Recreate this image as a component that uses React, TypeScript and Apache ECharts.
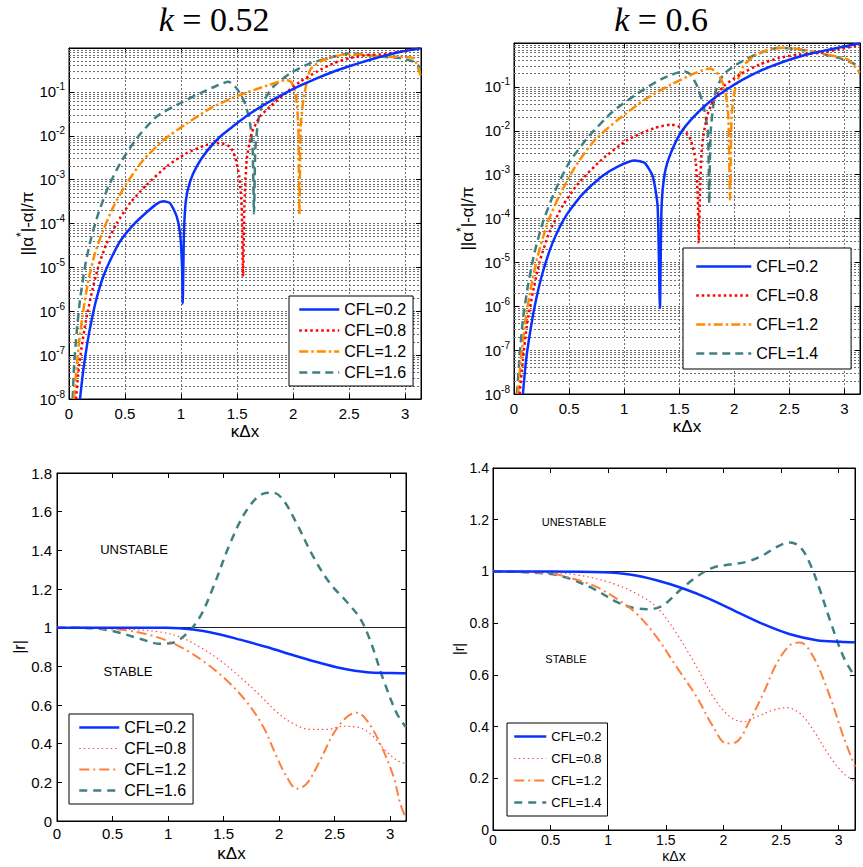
import React, { useEffect, useRef } from 'react';
import * as echarts from 'echarts';

type P = [number, number][];

// ---------- Top-left: k = 0.52, ||alpha*|-alpha|/pi (log) ----------
const TL_CFL02: P = [
  [0.098, 1e-8], [0.128, 4.6e-8], [0.164, 1.9e-7], [0.202, 6.3e-7], [0.247, 2.0e-6], [0.306, 6.2e-6],
  [0.381, 1.7e-5], [0.455, 3.9e-5], [0.574, 9.3e-5], [0.693, 1.8e-4], [0.783, 2.8e-4], [0.842, 3.2e-4],
  [0.902, 2.9e-4], [0.961, 1.45e-4], [0.991, 6.0e-5], [1.009, 1.05e-5], [1.015, 1.5e-6], [1.026, 6.0e-5],
  [1.044, 3.5e-4], [1.08, 8.9e-4], [1.14, 2.0e-3], [1.229, 4.4e-3], [1.348, 9.5e-3], [1.467, 1.66e-2],
  [1.616, 3.2e-2], [1.764, 5.5e-2], [1.913, 8.9e-2], [2.062, 0.138], [2.211, 0.204], [2.359, 0.288],
  [2.508, 0.389], [2.657, 0.513], [2.806, 0.66], [2.954, 0.81], [3.14, 0.98],
];
const TL_CFL08: P = [
  [0.0625, 1e-8], [0.083, 3.9e-8], [0.113, 1.55e-7], [0.152, 6.3e-7], [0.202, 2.6e-6], [0.262, 1.05e-5],
  [0.336, 3.5e-5], [0.425, 1.0e-4], [0.544, 2.9e-4], [0.693, 7.6e-4], [0.872, 2.0e-3], [1.05, 4.0e-3],
  [1.229, 6.2e-3], [1.348, 6.8e-3], [1.437, 5.6e-3], [1.482, 3.3e-3], [1.52, 1.17e-3], [1.541, 2.4e-4],
  [1.553, 6.2e-6], [1.565, 2.4e-4], [1.586, 2.8e-3], [1.63, 1.15e-2], [1.705, 2.75e-2], [1.794, 4.6e-2],
  [1.913, 8.5e-2], [2.062, 0.17], [2.211, 0.288], [2.359, 0.447], [2.508, 0.59], [2.657, 0.69],
  [2.806, 0.72], [2.954, 0.83], [3.14, 0.98],
];
const TL_CFL12: P = [
  [0.045, 1e-8], [0.0625, 3.9e-8], [0.092, 2.2e-7], [0.128, 1.07e-6], [0.173, 5.1e-6], [0.232, 2.1e-5],
  [0.306, 7.1e-5], [0.396, 2.4e-4], [0.515, 8.3e-4], [0.663, 2.8e-3], [0.842, 7.9e-3], [1.05, 1.9e-2],
  [1.288, 4.6e-2], [1.526, 8.5e-2], [1.764, 0.138], [1.943, 0.186], [1.988, 0.162], [2.026, 7.8e-2],
  [2.047, 1.6e-2], [2.056, 1.55e-4], [2.068, 1.6e-2], [2.092, 6.6e-2], [2.151, 0.316], [2.24, 0.49],
  [2.359, 0.63], [2.478, 0.72], [2.657, 0.69], [2.806, 0.63], [2.954, 0.63], [3.074, 0.59], [3.14, 0.224],
];
const TL_CFL16: P = [
  [0.033, 1e-8], [0.045, 5.5e-8], [0.068, 3.2e-7], [0.098, 1.8e-6], [0.143, 1.05e-5], [0.193, 4.2e-5],
  [0.262, 1.7e-4], [0.351, 6.9e-4], [0.455, 2.3e-3], [0.604, 8.7e-3], [0.783, 2.75e-2], [0.991, 5.5e-2],
  [1.169, 9.3e-2], [1.318, 0.138], [1.422, 0.17], [1.497, 0.12], [1.571, 5.5e-2], [1.616, 1.9e-2],
  [1.639, 4.8e-3], [1.651, 1.7e-4], [1.663, 4.8e-3], [1.69, 2.3e-2], [1.735, 6.0e-2], [1.824, 0.132],
  [1.973, 0.263], [2.151, 0.447], [2.359, 0.63], [2.508, 0.76], [2.657, 0.69], [2.806, 0.63],
  [2.954, 0.59], [3.074, 0.49], [3.14, 0.347],
];

// ---------- Top-right: k = 0.6 ----------
const TR_CFL02: P = [
  [0.081, 1e-8], [0.11, 6.0e-8], [0.155, 3.5e-7], [0.2, 1.4e-6], [0.26, 5.8e-6], [0.349, 2.75e-5],
  [0.469, 1.12e-4], [0.618, 3.5e-4], [0.797, 9.1e-4], [0.946, 1.55e-3], [1.096, 2.1e-3], [1.185, 1.86e-3],
  [1.26, 9.1e-4], [1.304, 1.9e-4], [1.325, 9.1e-7], [1.34, 1.9e-4], [1.37, 1.1e-3], [1.424, 3.1e-3],
  [1.513, 8.9e-3], [1.633, 2.1e-2], [1.782, 4.7e-2], [1.931, 8.7e-2], [2.081, 0.148], [2.23, 0.229],
  [2.379, 0.324], [2.528, 0.437], [2.678, 0.56], [2.827, 0.68], [2.976, 0.81], [3.14, 0.98],
];
const TR_CFL08: P = [
  [0.051, 1e-8], [0.081, 6.0e-8], [0.116, 3.5e-7], [0.17, 2.0e-6], [0.23, 9.8e-6], [0.319, 4.7e-5],
  [0.439, 1.9e-4], [0.588, 6.5e-4], [0.797, 2.2e-3], [1.036, 6.3e-3], [1.275, 1.15e-2], [1.424, 1.38e-2],
  [1.528, 1.15e-2], [1.603, 6.3e-3], [1.648, 2.2e-3], [1.669, 2.7e-4], [1.678, 2.75e-5], [1.687, 2.7e-4],
  [1.707, 4.5e-3], [1.752, 2.1e-2], [1.812, 5.1e-2], [1.901, 0.102], [2.051, 0.19], [2.23, 0.324],
  [2.409, 0.457], [2.588, 0.55], [2.767, 0.59], [2.946, 0.71], [3.14, 0.91],
];
const TR_CFL12: P = [
  [0.036, 1e-8], [0.066, 7.2e-8], [0.104, 4.9e-7], [0.155, 2.8e-6], [0.215, 1.38e-5], [0.304, 7.9e-5],
  [0.409, 3.2e-4], [0.558, 1.55e-3], [0.737, 6.3e-3], [0.946, 1.8e-2], [1.185, 5.1e-2], [1.424, 0.112],
  [1.633, 0.2], [1.782, 0.263], [1.857, 0.19], [1.916, 8.7e-2], [1.946, 2.1e-2], [1.961, 2.7e-4],
  [1.976, 2.1e-2], [2.006, 8.7e-2], [2.081, 0.295], [2.2, 0.55], [2.319, 0.71], [2.439, 0.78],
  [2.618, 0.71], [2.767, 0.59], [2.916, 0.5], [3.036, 0.417], [3.14, 0.209],
];
const TR_CFL14: P = [
  [0.027, 1e-8], [0.051, 7.2e-8], [0.081, 4.9e-7], [0.125, 2.8e-6], [0.185, 1.62e-5], [0.26, 7.9e-5],
  [0.364, 3.8e-4], [0.499, 1.86e-3], [0.678, 7.4e-3], [0.887, 2.6e-2], [1.125, 7.2e-2], [1.334, 0.148],
  [1.543, 0.229], [1.603, 0.19], [1.663, 0.105], [1.722, 3.6e-2], [1.761, 8.9e-3], [1.773, 2.2e-4],
  [1.785, 8.9e-3], [1.827, 7.2e-2], [1.901, 0.19], [2.021, 0.324], [2.2, 0.55], [2.409, 0.78],
  [2.588, 0.71], [2.767, 0.59], [2.946, 0.457], [3.066, 0.355], [3.14, 0.295],
];

// ---------- Bottom-left: |r| (k = 0.52) ----------
const BL_CFL02: P = [
  [0, 1.0], [0.5, 1.0], [0.986, 1.0], [1.226, 0.991], [1.437, 0.969], [1.647, 0.938], [1.888, 0.9],
  [2.128, 0.857], [2.338, 0.822], [2.549, 0.791], [2.789, 0.769], [3.0, 0.765], [3.1416, 0.764],
];
const BL_CFL08: P = [
  [0, 1.0], [0.385, 0.997], [0.685, 0.99], [0.926, 0.978], [1.106, 0.952], [1.286, 0.9], [1.467, 0.831],
  [1.647, 0.745], [1.827, 0.65], [1.978, 0.564], [2.128, 0.503], [2.278, 0.474], [2.429, 0.474],
  [2.579, 0.49], [2.699, 0.486], [2.819, 0.452], [2.94, 0.374], [3.06, 0.314], [3.1416, 0.297],
];
const BL_CFL12: P = [
  [0, 1.0], [0.385, 0.997], [0.625, 0.986], [0.806, 0.966], [0.986, 0.934], [1.166, 0.883], [1.347, 0.814],
  [1.527, 0.728], [1.707, 0.616], [1.858, 0.486], [1.978, 0.331], [2.068, 0.228], [2.158, 0.167],
  [2.248, 0.193], [2.369, 0.314], [2.489, 0.452], [2.609, 0.538], [2.699, 0.56], [2.789, 0.521],
  [2.909, 0.4], [3.03, 0.228], [3.09, 0.09], [3.1416, 0.012],
];
const BL_CFL16: P = [
  [0, 1.0], [0.325, 0.997], [0.535, 0.978], [0.745, 0.943], [0.926, 0.917], [1.046, 0.922], [1.166, 0.969],
  [1.286, 1.055], [1.407, 1.21], [1.557, 1.434], [1.707, 1.607], [1.858, 1.693], [1.948, 1.698],
  [2.038, 1.659], [2.158, 1.538], [2.308, 1.366], [2.459, 1.228], [2.609, 1.133], [2.729, 1.047],
  [2.819, 0.934], [2.94, 0.728], [3.06, 0.555], [3.1416, 0.486],
];

// ---------- Bottom-right: |r| (k = 0.6) ----------
const BR_CFL02: P = [
  [0, 1.0], [0.5, 1.0], [0.956, 0.997], [1.187, 0.988], [1.419, 0.966], [1.651, 0.934], [1.882, 0.893],
  [2.114, 0.844], [2.346, 0.796], [2.578, 0.757], [2.809, 0.734], [3.012, 0.728], [3.1416, 0.726],
];
const BR_CFL08: P = [
  [0, 1.0], [0.463, 0.997], [0.753, 0.985], [1.043, 0.953], [1.245, 0.914], [1.419, 0.863], [1.593, 0.76],
  [1.767, 0.631], [1.911, 0.515], [2.056, 0.438], [2.172, 0.419], [2.288, 0.438], [2.433, 0.464],
  [2.548, 0.473], [2.664, 0.451], [2.78, 0.386], [2.925, 0.283], [3.041, 0.219], [3.1416, 0.187],
];
const BR_CFL12: P = [
  [0, 1.0], [0.463, 0.994], [0.695, 0.972], [0.898, 0.94], [1.072, 0.895], [1.245, 0.837], [1.419, 0.747],
  [1.593, 0.631], [1.767, 0.515], [1.911, 0.399], [2.027, 0.335], [2.114, 0.341], [2.23, 0.425],
  [2.346, 0.528], [2.462, 0.644], [2.578, 0.715], [2.664, 0.725], [2.78, 0.67], [2.925, 0.515],
  [3.041, 0.361], [3.1416, 0.245],
];
const BR_CFL14: P = [
  [0, 1.0], [0.463, 0.992], [0.666, 0.972], [0.898, 0.927], [1.072, 0.882], [1.245, 0.857], [1.361, 0.854],
  [1.477, 0.869], [1.622, 0.927], [1.767, 0.979], [1.911, 1.015], [2.056, 1.027], [2.201, 1.037],
  [2.346, 1.063], [2.462, 1.095], [2.578, 1.112], [2.664, 1.095], [2.751, 1.03], [2.838, 0.927],
  [2.925, 0.811], [3.041, 0.67], [3.1416, 0.592],
];

const NAMES_A = ['CFL=0.2', 'CFL=0.8', 'CFL=1.2', 'CFL=1.6'];
const NAMES_B = ['CFL=0.2', 'CFL=0.8', 'CFL=1.2', 'CFL=1.4'];
const X_TICKS = [0, 0.5, 1, 1.5, 2, 2.5, 3];

const FONT = '"Liberation Sans", Arial, Helvetica, sans-serif';
const SERIF = '"Liberation Serif", "Times New Roman", serif';

type LS = { color: string; width: number; type: any };
const TOP_STYLES: LS[] = [
  { color: '#0a32ff', width: 2.5, type: 'solid' },
  { color: '#ff0000', width: 2.5, type: [2.5, 3] },
  { color: '#ff8c00', width: 2.5, type: [9, 3, 2.5, 3] },
  { color: '#408080', width: 2.5, type: [8, 5] },
];
const BOT_STYLES: LS[] = [
  { color: '#0a32ff', width: 2.5, type: 'solid' },
  { color: '#ff4a4a', width: 1.2, type: [1.5, 3] },
  { color: '#ff7f40', width: 2, type: [10, 4, 2, 4] },
  { color: '#408080', width: 2.5, type: [8, 6] },
];

const GRIDS = [
  { left: 69, top: 48, width: 352, height: 351 },
  { left: 514, top: 43, width: 351, height: 351 },
  { left: 57, top: 473, width: 349, height: 348 },
  { left: 493, top: 468, width: 362, height: 362 },
];

function xFmt(v: number) {
  return X_TICKS.some((t) => Math.abs(t - v) < 1e-6) ? String(v) : '';
}
function logFmt(v: number) {
  const e = Math.round(Math.log10(v));
  if (e >= 0) return '';
  return '10{sup|' + e + '}';
}

export default function App() {
  const ref = useRef<HTMLDivElement>(null);
  useEffect(() => {
    document.body.style.margin = '0';
    if (!ref.current) return;
    const chart = echarts.init(ref.current, undefined, { renderer: 'svg' });

    const minorVals: number[] = [];
    for (let d = -8; d < 0; d++) for (let m = 2; m <= 9; m++) minorVals.push(m * Math.pow(10, d));

    const gridLine = { color: '#6e6e6e', type: [2, 2], width: 1 };

    const xAxes: any[] = [];
    const yAxes: any[] = [];
    const xCfg = [
      { fs: 15, margin: 7, nameGap: 24, nameFs: 17, grid: true },
      { fs: 15, margin: 7, nameGap: 24, nameFs: 17, grid: true },
      { fs: 15, margin: 5, nameGap: 24, nameFs: 17, grid: false },
      { fs: 14, margin: 3, nameGap: 19, nameFs: 14, grid: false },
    ];
    xCfg.forEach((c, g) => {
      const base = {
        type: 'value', gridIndex: g, min: 0, max: Math.PI, interval: 0.5,
        axisLine: { show: true, onZero: false, lineStyle: { color: '#000', width: 1 } },
        axisTick: { show: true, inside: true, length: 5, lineStyle: { color: '#000' } },
      };
      xAxes.push({
        ...base, position: 'bottom',
        axisLabel: { color: '#000', fontSize: c.fs, fontFamily: FONT, margin: c.margin, formatter: xFmt },
        splitLine: { show: c.grid, lineStyle: gridLine },
        name: 'κΔx', nameLocation: 'middle', nameGap: c.nameGap,
        nameTextStyle: { color: '#000', fontSize: c.nameFs, fontFamily: FONT },
      });
      xAxes.push({ ...base, position: 'top', axisLabel: { show: false }, splitLine: { show: false } });
    });

    const logName = '||α{s|*}|-α|/π';
    [0, 1].forEach((g) => {
      const base = {
        type: 'log', logBase: 10, gridIndex: g, min: 1e-8, max: 1, splitNumber: 8,
        axisLine: { show: true, onZero: false, lineStyle: { color: '#000', width: 1 } },
        axisTick: { show: true, inside: true, length: 5, lineStyle: { color: '#000' } },
      };
      yAxes.push({
        ...base, position: 'left',
        axisLabel: {
          color: '#000', fontSize: 15, fontFamily: FONT, margin: 4, formatter: logFmt,
          rich: { sup: { fontSize: 10, fontFamily: FONT, color: '#000', padding: [0, 0, 10, 0] } },
        },
        splitLine: { show: true, lineStyle: gridLine },
        name: logName, nameLocation: 'middle', nameRotate: 90, nameGap: g === 0 ? 29 : 35,
        nameTextStyle: {
          color: '#000', fontSize: 17, fontFamily: FONT,
          rich: { s: { fontSize: 12, fontFamily: FONT, color: '#000', padding: [0, 0, 12, 0] } },
        },
      });
      yAxes.push({ ...base, position: 'right', axisLabel: { show: false }, splitLine: { show: false } });
    });
    const botY = [
      { g: 2, max: 1.8, fs: 15, margin: 5, nameGap: 29, nameFs: 16 },
      { g: 3, max: 1.4, fs: 14, margin: 4, nameGap: 21, nameFs: 14 },
    ];
    botY.forEach((c) => {
      const base = {
        type: 'value', gridIndex: c.g, min: 0, max: c.max, interval: 0.2,
        axisLine: { show: true, onZero: false, lineStyle: { color: '#000', width: 1 } },
        axisTick: { show: true, inside: true, length: 5, lineStyle: { color: '#000' } },
        splitLine: { show: false },
      };
      yAxes.push({
        ...base, position: 'left',
        axisLabel: { color: '#000', fontSize: c.fs, fontFamily: FONT, margin: c.margin },
        name: '|r|', nameLocation: 'middle', nameRotate: 90, nameGap: c.nameGap,
        nameTextStyle: { color: '#000', fontSize: c.nameFs, fontFamily: FONT },
      });
      yAxes.push({ ...base, position: 'right', axisLabel: { show: false } });
    });

    const plots = [
      { data: [TL_CFL02, TL_CFL08, TL_CFL12, TL_CFL16], names: NAMES_A, styles: TOP_STYLES, log: true },
      { data: [TR_CFL02, TR_CFL08, TR_CFL12, TR_CFL14], names: NAMES_B, styles: TOP_STYLES, log: true },
      { data: [BL_CFL02, BL_CFL08, BL_CFL12, BL_CFL16], names: NAMES_A, styles: BOT_STYLES, log: false },
      { data: [BR_CFL02, BR_CFL08, BR_CFL12, BR_CFL14], names: NAMES_B, styles: BOT_STYLES, log: false },
    ];

    const series: any[] = [];
    plots.forEach((p, g) => {
      p.data.forEach((d, i) => {
        const s: any = {
          type: 'line', name: p.names[i], xAxisIndex: 2 * g, yAxisIndex: 2 * g, data: d,
          symbol: 'none', showSymbol: false, smooth: p.log ? 0.2 : 0.35,
          lineStyle: { ...p.styles[i], join: 'round', cap: 'butt' }, itemStyle: { color: p.styles[i].color },
          z: 3 + (3 - i), clip: true,
        };
        if (i === 0) {
          s.markLine = p.log
            ? {
                silent: true, symbol: ['none', 'none'], z: 1, precision: 12, label: { show: false },
                lineStyle: { color: '#6e6e6e', type: [2, 2], width: 1 },
                emphasis: { disabled: true },
                data: minorVals.map((v) => ({ yAxis: v })),
              }
            : {
                silent: true, symbol: ['none', 'none'], z: 1, label: { show: false },
                lineStyle: { color: '#222', type: 'solid', width: 1 },
                emphasis: { disabled: true },
                data: [{ yAxis: 1 }],
              };
        }
        series.push(s);
      });
    });

    const mkLegend = (names: string[], styles: LS[], left: number, top: number, fs: number,
      lh: number, gap: number, iw: number, padding: number[]) => ({
      orient: 'vertical', left, top, itemWidth: iw, itemHeight: 10, itemGap: gap, padding,
      borderColor: '#000', borderWidth: 1, backgroundColor: '#fff', selectedMode: false,
      textStyle: { color: '#000', fontSize: fs, fontFamily: FONT, lineHeight: lh },
      data: names.map((n, i) => ({
        name: n,
        itemStyle: { color: styles[i].color, opacity: 0 },
        lineStyle: { color: styles[i].color, width: styles[i].width, type: styles[i].type },
      })),
    });

    const legends = [
      mkLegend(NAMES_A, TOP_STYLES, 289, 296, 16, 21, 0, 40, [3, 7, 3, 9]),
      mkLegend(NAMES_B, TOP_STYLES, 683, 248, 16, 21, 8, 55, [8, 33, 5, 12]),
      mkLegend(NAMES_A, BOT_STYLES, 69, 714, 16, 21, 0, 40, [3, 7, 3, 9]),
      mkLegend(NAMES_B, BOT_STYLES, 507, 723, 13, 17, 5, 32, [5, 6, 5, 6]),
    ];

    const txt = (x: number, y: number, text: string, fs: number) => ({
      type: 'text', x, y, silent: true,
      style: { text, fontSize: fs, fontFamily: FONT, fill: '#000', align: 'center', verticalAlign: 'middle' },
    });
    const title = (x: number, val: string) => ({
      type: 'text', x, y: 19, silent: true,
      style: {
        text: '{i|k} = ' + val, fontSize: 34, fontFamily: SERIF, fill: '#000',
        align: 'center', verticalAlign: 'middle',
        rich: { i: { fontStyle: 'italic', fontSize: 34, fontFamily: SERIF, fill: '#000' } },
      },
    });

    chart.setOption({
      animation: false,
      backgroundColor: '#fff',
      grid: GRIDS.map((g) => ({ ...g, show: true, borderColor: '#000', borderWidth: 1, backgroundColor: 'transparent' })),
      xAxis: xAxes,
      yAxis: yAxes,
      legend: legends,
      series,
      graphic: [
        title(214, '0.52'),
        title(661, '0.6'),
        txt(134, 549, 'UNSTABLE', 13),
        txt(128, 671, 'STABLE', 13),
        txt(574, 522, 'UNESTABLE', 11),
        txt(566, 659, 'STABLE', 11),
      ],
    });
    return () => chart.dispose();
  }, []);
  return <div ref={ref} style={{ width: 863, height: 867 }} />;
}
